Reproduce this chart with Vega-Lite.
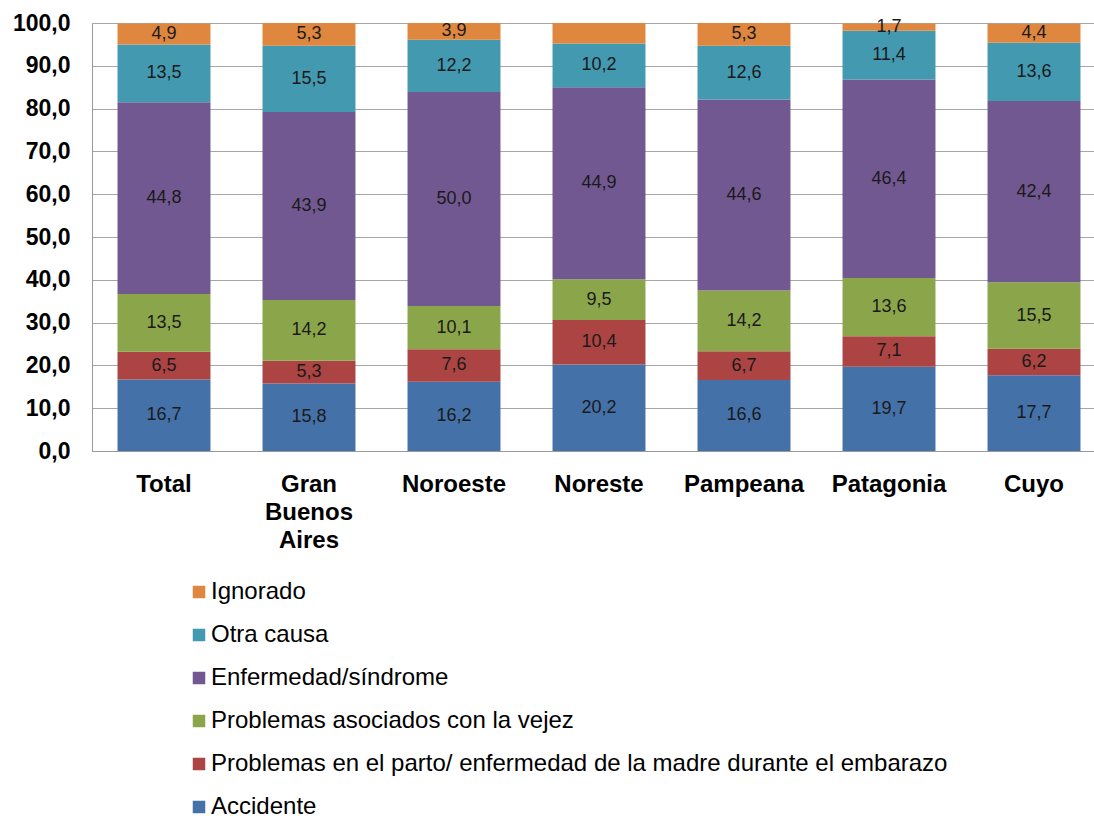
{
  "$schema": "https://vega.github.io/schema/vega-lite/v6.json",
  "autosize": {"type": "none"},
  "padding": {"left": 92, "top": 23, "right": 0, "bottom": 368},
  "width": 1002,
  "height": 428,
  "background": "white",
  "config": {
    "font": "Liberation Sans",
    "view": {"stroke": null},
    "locale": {"number": {"decimal": ",", "thousands": ".", "grouping": [3], "currency": ["$", ""]}}
  },
  "data": {
    "values": [
      {"region": "Total", "cause": "Accidente", "order": 1, "value": 16.7},
      {"region": "Total", "cause": "Problemas en el parto/ enfermedad de la madre durante el embarazo", "order": 2, "value": 6.5},
      {"region": "Total", "cause": "Problemas asociados con la vejez", "order": 3, "value": 13.5},
      {"region": "Total", "cause": "Enfermedad/síndrome", "order": 4, "value": 44.8},
      {"region": "Total", "cause": "Otra causa", "order": 5, "value": 13.5},
      {"region": "Total", "cause": "Ignorado", "order": 6, "value": 4.9},
      {"region": "Gran Buenos Aires", "cause": "Accidente", "order": 1, "value": 15.8},
      {"region": "Gran Buenos Aires", "cause": "Problemas en el parto/ enfermedad de la madre durante el embarazo", "order": 2, "value": 5.3},
      {"region": "Gran Buenos Aires", "cause": "Problemas asociados con la vejez", "order": 3, "value": 14.2},
      {"region": "Gran Buenos Aires", "cause": "Enfermedad/síndrome", "order": 4, "value": 43.9},
      {"region": "Gran Buenos Aires", "cause": "Otra causa", "order": 5, "value": 15.5},
      {"region": "Gran Buenos Aires", "cause": "Ignorado", "order": 6, "value": 5.3},
      {"region": "Noroeste", "cause": "Accidente", "order": 1, "value": 16.2},
      {"region": "Noroeste", "cause": "Problemas en el parto/ enfermedad de la madre durante el embarazo", "order": 2, "value": 7.6},
      {"region": "Noroeste", "cause": "Problemas asociados con la vejez", "order": 3, "value": 10.1},
      {"region": "Noroeste", "cause": "Enfermedad/síndrome", "order": 4, "value": 50.0},
      {"region": "Noroeste", "cause": "Otra causa", "order": 5, "value": 12.2},
      {"region": "Noroeste", "cause": "Ignorado", "order": 6, "value": 3.9},
      {"region": "Noreste", "cause": "Accidente", "order": 1, "value": 20.2},
      {"region": "Noreste", "cause": "Problemas en el parto/ enfermedad de la madre durante el embarazo", "order": 2, "value": 10.4},
      {"region": "Noreste", "cause": "Problemas asociados con la vejez", "order": 3, "value": 9.5},
      {"region": "Noreste", "cause": "Enfermedad/síndrome", "order": 4, "value": 44.9},
      {"region": "Noreste", "cause": "Otra causa", "order": 5, "value": 10.2},
      {"region": "Noreste", "cause": "Ignorado", "order": 6, "value": 4.8},
      {"region": "Pampeana", "cause": "Accidente", "order": 1, "value": 16.6},
      {"region": "Pampeana", "cause": "Problemas en el parto/ enfermedad de la madre durante el embarazo", "order": 2, "value": 6.7},
      {"region": "Pampeana", "cause": "Problemas asociados con la vejez", "order": 3, "value": 14.2},
      {"region": "Pampeana", "cause": "Enfermedad/síndrome", "order": 4, "value": 44.6},
      {"region": "Pampeana", "cause": "Otra causa", "order": 5, "value": 12.6},
      {"region": "Pampeana", "cause": "Ignorado", "order": 6, "value": 5.3},
      {"region": "Patagonia", "cause": "Accidente", "order": 1, "value": 19.7},
      {"region": "Patagonia", "cause": "Problemas en el parto/ enfermedad de la madre durante el embarazo", "order": 2, "value": 7.1},
      {"region": "Patagonia", "cause": "Problemas asociados con la vejez", "order": 3, "value": 13.6},
      {"region": "Patagonia", "cause": "Enfermedad/síndrome", "order": 4, "value": 46.4},
      {"region": "Patagonia", "cause": "Otra causa", "order": 5, "value": 11.4},
      {"region": "Patagonia", "cause": "Ignorado", "order": 6, "value": 1.7},
      {"region": "Cuyo", "cause": "Accidente", "order": 1, "value": 17.7},
      {"region": "Cuyo", "cause": "Problemas en el parto/ enfermedad de la madre durante el embarazo", "order": 2, "value": 6.2},
      {"region": "Cuyo", "cause": "Problemas asociados con la vejez", "order": 3, "value": 15.5},
      {"region": "Cuyo", "cause": "Enfermedad/síndrome", "order": 4, "value": 42.4},
      {"region": "Cuyo", "cause": "Otra causa", "order": 5, "value": 13.6},
      {"region": "Cuyo", "cause": "Ignorado", "order": 6, "value": 4.4}
    ]
  },
  "encoding": {
    "x": {
      "field": "region",
      "type": "nominal",
      "sort": ["Total", "Gran Buenos Aires", "Noroeste", "Noreste", "Pampeana", "Patagonia", "Cuyo"],
      "scale": {"range": [0, 1014], "paddingInner": 0.359, "paddingOuter": 0.176},
      "axis": {
        "title": null,
        "labelAngle": 0,
        "ticks": false,
        "domainColor": "#999999",
        "labelFont": "Liberation Sans",
        "labelFontSize": 24,
        "labelFontWeight": "bold",
        "labelColor": "#000000",
        "labelPadding": 21,
        "labelBaseline": "top",
        "labelLineHeight": 28,
        "labelExpr": "datum.label == 'Gran Buenos Aires' ? ['Gran', 'Buenos', 'Aires'] : datum.label"
      }
    }
  },
  "layer": [
    {
      "mark": {"type": "bar"},
      "encoding": {
        "y": {
          "field": "value",
          "type": "quantitative",
          "stack": "zero",
          "scale": {"domain": [0, 100], "nice": false},
          "axis": {
            "title": null,
            "values": [0, 10, 20, 30, 40, 50, 60, 70, 80, 90, 100],
            "format": ".1f",
            "ticks": false,
            "domainColor": "#999999",
            "gridColor": "#A6A6A6",
            "grid": true,
            "labelFont": "Liberation Sans",
            "labelFontSize": 23,
            "labelFontWeight": "bold",
            "labelColor": "#000000",
            "labelPadding": 22
          }
        },
        "color": {
          "field": "cause",
          "type": "nominal",
          "scale": {
            "domain": ["Ignorado", "Otra causa", "Enfermedad/síndrome", "Problemas asociados con la vejez", "Problemas en el parto/ enfermedad de la madre durante el embarazo", "Accidente"],
            "range": ["#DF873F", "#4399B0", "#715890", "#8BA54A", "#AB4442", "#4471A8"]
          },
          "legend": {
            "title": null,
            "orient": "none",
            "legendX": 95,
            "legendY": 557,
            "direction": "vertical",
            "symbolType": "square",
            "symbolSize": 156,
            "symbolStrokeWidth": 0,
            "labelFont": "Liberation Sans",
            "labelFontSize": 24,
            "labelColor": "#000000",
            "labelOffset": 0,
            "rowPadding": 19,
            "labelLimit": 1000,
            "padding": 0
          }
        },
        "order": {"field": "order", "type": "quantitative"}
      }
    },
    {
      "transform": [
        {"stack": "value", "groupby": ["region"], "sort": [{"field": "order"}], "as": ["v0", "v1"]},
        {"calculate": "(datum.v0 + datum.v1) / 2", "as": "mid"},
        {"filter": "!(datum.region == 'Noreste' && datum.cause == 'Ignorado')"}
      ],
      "mark": {"type": "text", "font": "Liberation Sans", "fontSize": 18, "color": "#1A1A1A", "baseline": "middle", "align": "center"},
      "encoding": {
        "y": {"field": "mid", "type": "quantitative"},
        "text": {"field": "value", "type": "quantitative", "format": ".1f"}
      }
    }
  ]
}
